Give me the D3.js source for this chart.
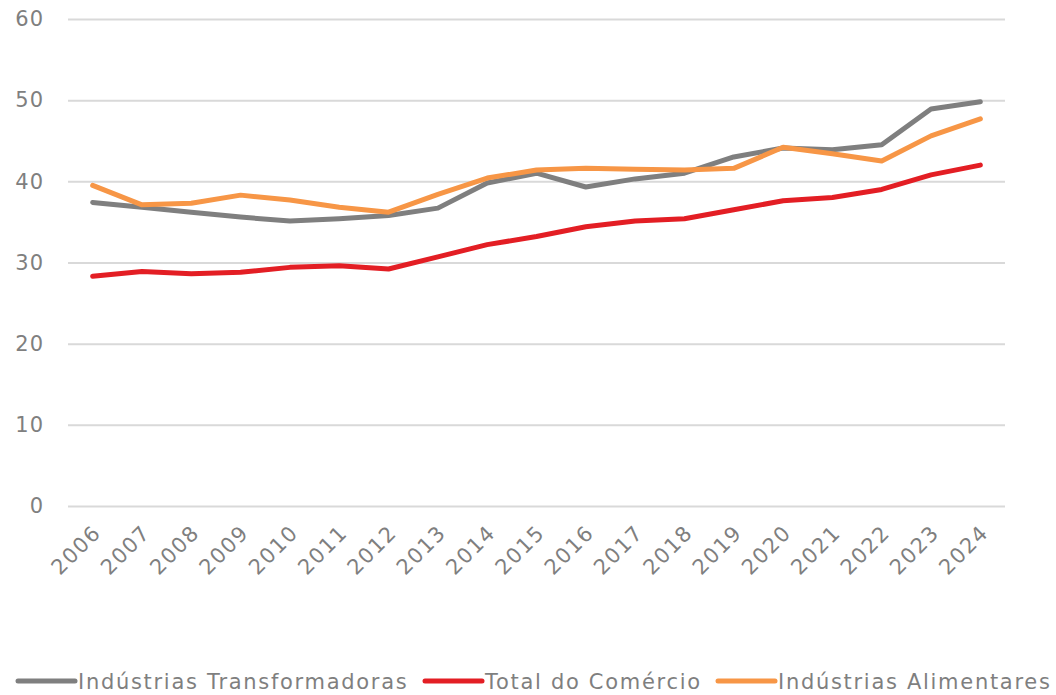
<!DOCTYPE html>
<html>
<head>
<meta charset="utf-8">
<script src="https://cdn.jsdelivr.net/npm/d3@7"></script>
<style>
body { margin: 0; background: #fff; }
text { font-family: "DejaVu Sans", sans-serif; fill: #7f7f7f; }
</style>
</head>
<body>
<div class="content"></div>
<script>
var years = ["2006","2007","2008","2009","2010","2011","2012","2013","2014","2015","2016","2017","2018","2019","2020","2021","2022","2023","2024"];
var transformadoras = [37.4,36.8,36.2,35.6,35.1,35.4,35.8,36.7,39.8,41.0,39.3,40.3,41.0,43.0,44.1,43.9,44.5,48.9,49.8];
var comercio = [28.3,28.9,28.6,28.8,29.4,29.6,29.2,30.7,32.2,33.2,34.4,35.1,35.4,36.5,37.6,38.0,39.0,40.8,42.0];
var alimentares = [39.5,37.1,37.3,38.3,37.7,36.8,36.2,38.4,40.4,41.4,41.6,41.5,41.4,41.6,44.2,43.4,42.5,45.6,47.7];
var yTicks = [0,10,20,30,40,50,60];
var seriesNames = ["Indústrias Transformadoras","Total do Comércio","Indústrias Alimentares"];
var seriesColors = ["#7f7f7f","#e31e24","#f79646"];

var width = 1056, height = 695;
var pLeft = 68, pRight = 1005, pTop = 19, pBottom = 506;

var svg = d3.select(".content").append("svg").attr("width", width).attr("height", height);

var x = d3.scalePoint().domain(years).range([pLeft, pRight]).padding(0.5);
var y = d3.scaleLinear().domain([0, 60]).range([pBottom, pTop]);

// grid + y labels
var yAxis = svg.append("g").attr("transform", "translate(" + pLeft + ",0)")
  .call(d3.axisLeft(y).tickValues(yTicks).tickSize(-(pRight - pLeft)).tickPadding(24));
yAxis.select(".domain").remove();
yAxis.selectAll("line").attr("stroke", "#d9d9d9").attr("stroke-width", 2);
yAxis.selectAll("text").style("font-size", "21px").style("letter-spacing", "1px").attr("fill", "#7f7f7f");

// x labels
var xAxis = svg.append("g").attr("transform", "translate(0," + pBottom + ")")
  .call(d3.axisBottom(x).tickSize(0).tickPadding(0));
xAxis.select(".domain").remove();
xAxis.selectAll("text")
  .style("font-size", "21px")
  .style("letter-spacing", "1.5px")
  .attr("text-anchor", "end")
  .attr("y", 0)
  .attr("dy", 0)
  .attr("transform", "translate(9,28) rotate(-45)");

var data = [transformadoras, comercio, alimentares];
var line = d3.line().x(function(d, i){ return x(years[i]); }).y(function(d){ return y(d); });

data.forEach(function(s, k){
  svg.append("path").datum(s).attr("d", line)
    .attr("stroke", seriesColors[k]).attr("stroke-width", 5)
    .attr("fill", "none").attr("stroke-linejoin", "round").attr("stroke-linecap", "round");
});

// legend
var legX = [18, 425, 718];
seriesNames.forEach(function(n, k){
  var g = svg.append("g").attr("transform", "translate(" + legX[k] + ",681)");
  g.append("line").attr("x1", 0).attr("x2", 57).attr("y1", 0).attr("y2", 0)
    .attr("stroke", seriesColors[k]).attr("stroke-width", 5).attr("stroke-linecap", "round");
  g.append("text").attr("x", 60).attr("y", 0).attr("dy", "0.36em")
    .style("font-size", "21px").style("letter-spacing", "1.7px").text(n);
});
</script>
</body>
</html>
